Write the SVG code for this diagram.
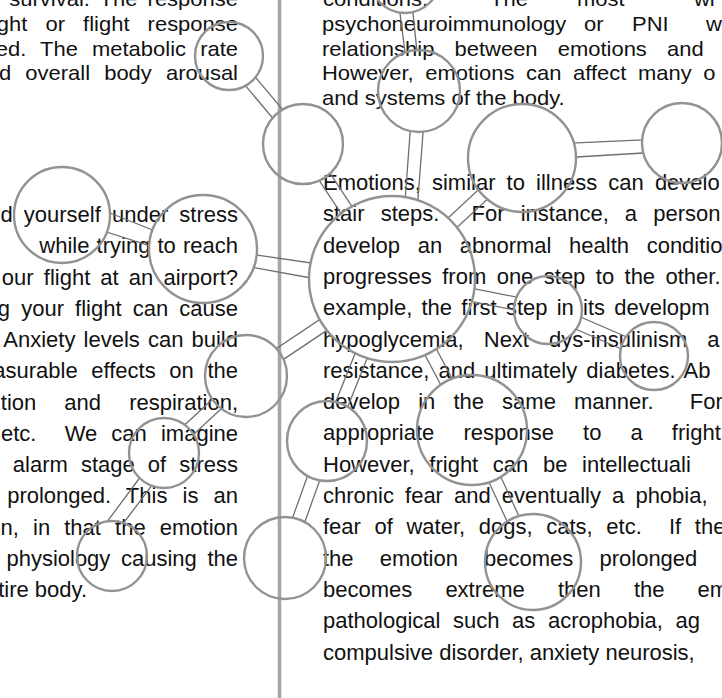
<svg xmlns="http://www.w3.org/2000/svg" width="722" height="698" viewBox="0 0 722 698">
<style>
.t{font-family:"Liberation Sans",Arial,sans-serif;font-size:22px;fill:#111;white-space:pre}
.L{text-anchor:end}
.c{fill:none;stroke:#929292;stroke-width:2.4}
.m{fill:#000}
#connectors line{stroke:#6e6e6e;stroke-width:1.3}
.rule{stroke:#a6a6a6;stroke-width:3.6}
</style>
<defs>
<mask id="out" maskUnits="userSpaceOnUse" x="0" y="0" width="722" height="698">
<rect width="722" height="698" fill="#fff"/>
<circle class="m" cx="405" cy="-22" r="35"/>
<circle class="m" cx="229" cy="56" r="34"/>
<circle class="m" cx="303" cy="144" r="40"/>
<circle class="m" cx="419" cy="91" r="41"/>
<circle class="m" cx="522" cy="158" r="54"/>
<circle class="m" cx="682" cy="143" r="40"/>
<circle class="m" cx="392" cy="279" r="83"/>
<circle class="m" cx="62" cy="215" r="48"/>
<circle class="m" cx="203" cy="249" r="54"/>
<circle class="m" cx="246" cy="376" r="41"/>
<circle class="m" cx="164" cy="453" r="35"/>
<circle class="m" cx="112" cy="556" r="35"/>
<circle class="m" cx="285" cy="558" r="41"/>
<circle class="m" cx="327" cy="441" r="40"/>
<circle class="m" cx="472" cy="430" r="55"/>
<circle class="m" cx="533" cy="562" r="48"/>
<circle class="m" cx="548" cy="310" r="34"/>
<circle class="m" cx="654" cy="356" r="34"/>
</mask>
</defs>
<rect width="722" height="698" fill="#fff"/>

<g id="text">
<g transform="scale(1,0.9)">
<text class="t L" x="238" y="7.2" style="word-spacing:4px">survival. The response</text>
<text class="t L" x="238" y="34.4" style="word-spacing:12px">ght or flight response</text>
<text class="t L" x="238" y="61.7" style="word-spacing:8px">ed. The metabolic rate</text>
<text class="t L" x="238" y="88.9" style="word-spacing:8px">d overall body arousal</text>
<text class="t" y="7.2"><tspan x="323">conditions.</tspan><tspan x="490">The</tspan><tspan x="577">most</tspan><tspan x="694">wi</tspan></text>
<text class="t" y="34.4"><tspan x="322">psychoneuroimmunology</tspan><tspan x="584">or</tspan><tspan x="632">PNI</tspan><tspan x="706">w</tspan></text>
<text class="t" x="322" y="61.7" style="word-spacing:14px">relationship between emotions and</text>
<text class="t" x="322" y="88.9" style="word-spacing:5.5px">However, emotions can affect many o</text>
<text class="t" x="322" y="116.7">and systems of the body.</text>
</g>

<text class="t L" x="238" y="222" style="word-spacing:5px">d yourself under stress</text>
<text class="t L" x="238" y="253" style="word-spacing:1px">while trying to reach</text>
<text class="t L" x="238" y="284.5" style="word-spacing:4px">our flight at an airport?</text>
<text class="t L" x="238" y="316" style="word-spacing:5px">g your flight can cause</text>
<text class="t L" x="238" y="347" style="word-spacing:2px">Anxiety levels can build</text>
<text class="t L" x="238" y="378" style="word-spacing:7.5px">asurable effects on the</text>
<text class="t L" x="238" y="409.5" style="word-spacing:22px">tion and respiration,</text>
<text class="t L" x="238" y="441" style="word-spacing:8px">etc.  We can imagine</text>
<text class="t L" x="238" y="472" style="word-spacing:7px">alarm stage of stress</text>
<text class="t L" x="238" y="503" style="word-spacing:9px">prolonged. This is an</text>
<text class="t L" x="238" y="534.5" style="word-spacing:8px">n, in that the emotion</text>
<text class="t L" x="238" y="566" style="word-spacing:4.5px">physiology causing the</text>
<text class="t L" x="87" y="597">tire body.</text>

<text class="t" x="323" y="190" style="word-spacing:5px">Emotions, similar to illness can develo</text>
<text class="t" x="323" y="221.3" style="word-spacing:10px">stair steps.  For instance, a person</text>
<text class="t" x="323" y="252.6" style="word-spacing:11.5px">develop an abnormal health conditio</text>
<text class="t" x="323" y="283.9" style="word-spacing:4.3px">progresses from one step to the other.</text>
<text class="t" x="323" y="315.2" style="word-spacing:3.1px">example, the first step in its developm</text>
<text class="t" x="323" y="346.5" style="word-spacing:14px">hypoglycemia, Next dys-insulinism a</text>
<text class="t" x="323" y="377.8" style="word-spacing:3px">resistance, and ultimately diabetes. Ab</text>
<text class="t" x="323" y="409.1" style="word-spacing:12px">develop in the same manner.  For</text>
<text class="t" x="323" y="440.4" style="word-spacing:23px">appropriate response to a fright</text>
<text class="t" x="323" y="471.7" style="word-spacing:8.5px">However, fright can be intellectuali</text>
<text class="t" x="323" y="503" style="word-spacing:5px">chronic fear and eventually a phobia,</text>
<text class="t" x="323" y="534.3" style="word-spacing:7.5px">fear of water, dogs, cats, etc.  If the</text>
<text class="t" x="323" y="565.6" style="word-spacing:20px">the emotion becomes prolonged</text>
<text class="t" x="323" y="596.9" style="word-spacing:27px">becomes extreme then the em</text>
<text class="t" x="323" y="628.2" style="word-spacing:6.5px">pathological such as acrophobia, ag</text>
<text class="t" x="323" y="659.5">compulsive disorder, anxiety neurosis,</text>
</g>

<line class="rule" x1="279.5" y1="0" x2="279.5" y2="698"/>

<g id="connectors" mask="url(#out)">
<line x1="398.3" y1="0" x2="406" y2="60"/><line x1="411.7" y1="0" x2="417.8" y2="60"/>
<line x1="411" y1="120" x2="404" y2="215"/><line x1="424" y1="120" x2="416.7" y2="215"/>
<line x1="396.4" y1="283.8" x2="526.4" y2="162.8"/><line x1="387.6" y1="274.2" x2="517.6" y2="153.2"/>
<line x1="560" y1="143.7" x2="660" y2="139.2"/><line x1="560" y1="158" x2="660" y2="152"/>
<line x1="224" y1="60.2" x2="298" y2="148.2"/><line x1="234" y1="51.8" x2="308" y2="139.8"/>
<line x1="297.6" y1="147.6" x2="386.6" y2="282.6"/><line x1="308.4" y1="140.4" x2="397.4" y2="275.4"/>
<line x1="100" y1="209" x2="160" y2="233"/><line x1="97" y1="229" x2="158" y2="248.3"/>
<line x1="245" y1="253.4" x2="325" y2="265"/><line x1="245" y1="266" x2="325" y2="280.5"/>
<line x1="250.6" y1="381.4" x2="395.6" y2="284.4"/><line x1="243.4" y1="370.6" x2="388.4" y2="273.6"/>
<line x1="168.4" y1="457.8" x2="251.4" y2="380.8"/><line x1="159.6" y1="448.2" x2="242.6" y2="371.2"/>
<line x1="92" y1="542" x2="150" y2="464"/><line x1="110" y1="541" x2="168" y2="464"/>
<line x1="291.1" y1="560.2" x2="333.1" y2="443.2"/><line x1="278.9" y1="555.8" x2="320.9" y2="438.8"/>
<line x1="333" y1="443.4" x2="398" y2="281.4"/><line x1="321" y1="438.6" x2="386" y2="276.6"/>
<line x1="386.3" y1="282" x2="466.3" y2="433"/><line x1="397.7" y1="276" x2="477.7" y2="427"/>
<line x1="466.1" y1="432.7" x2="527.1" y2="564.7"/><line x1="477.9" y1="427.3" x2="538.9" y2="559.3"/>
<line x1="390.7" y1="285.4" x2="546.7" y2="316.4"/><line x1="393.3" y1="272.6" x2="549.3" y2="303.6"/>
<line x1="545.4" y1="316" x2="651.4" y2="362"/><line x1="550.6" y1="304" x2="656.6" y2="350"/>
</g>

<g id="n0"><circle class="c" cx="405" cy="-22" r="35"/></g>
<g id="n1"><circle class="c" cx="229" cy="56" r="34"/></g>
<g id="n2"><circle class="c" cx="303" cy="144" r="40"/></g>
<g id="n3"><circle class="c" cx="419" cy="91" r="41"/></g>
<g id="n4"><circle class="c" cx="522" cy="158" r="54"/></g>
<g id="n5"><circle class="c" cx="682" cy="143" r="40"/></g>
<g id="n6"><circle class="c" cx="392" cy="279" r="83"/></g>
<g id="n7"><circle class="c" cx="62" cy="215" r="48"/></g>
<g id="n8"><circle class="c" cx="203" cy="249" r="54"/></g>
<g id="n9"><circle class="c" cx="246" cy="376" r="41"/></g>
<g id="n10"><circle class="c" cx="164" cy="453" r="35"/></g>
<g id="n11"><circle class="c" cx="112" cy="556" r="35"/></g>
<g id="n12"><circle class="c" cx="285" cy="558" r="41"/></g>
<g id="n13"><circle class="c" cx="327" cy="441" r="40"/></g>
<g id="n14"><circle class="c" cx="472" cy="430" r="55"/></g>
<g id="n15"><circle class="c" cx="533" cy="562" r="48"/></g>
<g id="n16"><circle class="c" cx="548" cy="310" r="34"/></g>
<g id="n17"><circle class="c" cx="654" cy="356" r="34"/></g>
</svg>
